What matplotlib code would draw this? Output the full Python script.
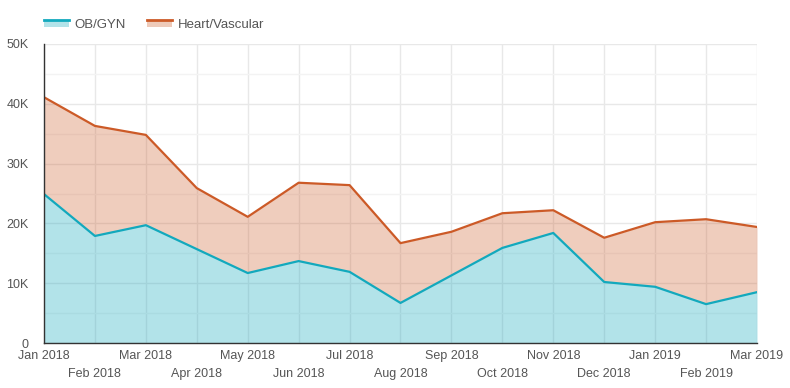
import matplotlib
matplotlib.use("Agg")
import matplotlib.pyplot as plt
from matplotlib.legend_handler import HandlerBase
from matplotlib.patches import Rectangle
from matplotlib.lines import Line2D
from matplotlib.ticker import MultipleLocator, FuncFormatter

plt.rcParams["font.family"] = ["Liberation Sans", "DejaVu Sans"]

months = ["Jan 2018", "Feb 2018", "Mar 2018", "Apr 2018", "May 2018", "Jun 2018",
          "Jul 2018", "Aug 2018", "Sep 2018", "Oct 2018", "Nov 2018", "Dec 2018",
          "Jan 2019", "Feb 2019", "Mar 2019"]
ob_gyn = [24900, 17900, 19700, 15700, 11700, 13700, 11900, 6700, 11300, 15900,
          18400, 10200, 9400, 6500, 8500]
heart_top = [41100, 36300, 34800, 25900, 21100, 26800, 26400, 16700, 18600, 21700,
             22200, 17600, 20200, 20700, 19400]
heart = [t - o for t, o in zip(heart_top, ob_gyn)]

teal = "#12a9bd"
orange = "#cc5a27"

fig = plt.figure(figsize=(7.9, 3.88), dpi=100)
ax = fig.add_axes([44 / 790, 45 / 388, 713 / 790, 299 / 388])

x = list(range(len(months)))
top = [o + h for o, h in zip(ob_gyn, heart)]
ax.fill_between(x, 0, ob_gyn, color=teal, alpha=0.32, lw=0, zorder=2)
ax.fill_between(x, ob_gyn, top, color=orange, alpha=0.3, lw=0, zorder=2)
ax.plot(x, top, color=orange, lw=1.6, zorder=3)
ax.plot(x, ob_gyn, color=teal, lw=1.6, zorder=3)

ax.set_xlim(0, len(months) - 1)
ax.set_ylim(0, 50000)
ax.yaxis.set_major_locator(MultipleLocator(10000))
ax.yaxis.set_minor_locator(MultipleLocator(5000))
ax.yaxis.set_major_formatter(FuncFormatter(lambda v, p: "0" if v == 0 else f"{int(v / 1000)}K"))
ax.set_xticks(x[::2])
ax.set_xticklabels(months[::2])
ax.set_xticks(x[1::2], minor=True)
ax.set_xticklabels(months[1::2], minor=True)
ax.set_axisbelow(True)
ax.grid(which="major", color="#e8e8e8", lw=1, zorder=0)
ax.grid(which="minor", axis="x", color="#e8e8e8", lw=1, zorder=0)
ax.grid(which="minor", axis="y", color="#f3f3f3", lw=1, zorder=0)
ax.tick_params(which="both", length=0, labelsize=9, colors="#555555", pad=5)
ax.tick_params(axis="x", which="minor", pad=18)
ax.tick_params(axis="y", pad=11)
for s in ["top", "right"]:
    ax.spines[s].set_visible(False)
for s in ["left", "bottom"]:
    ax.spines[s].set_color("#333333")
    ax.spines[s].set_linewidth(1)
    ax.spines[s].set_zorder(4)


class AreaHandler(HandlerBase):
    def __init__(self, line_c):
        super().__init__()
        self.line_c = line_c

    def create_artists(self, legend, orig, xd, yd, w, h, fontsize, trans):
        r = Rectangle((xd, yd), w, h * 0.6, facecolor=self.line_c, alpha=0.32, lw=0, transform=trans)
        l = Line2D([xd, xd + w], [yd + h * 0.6, yd + h * 0.6], color=self.line_c, lw=2, transform=trans)
        return [r, l]


h1 = Rectangle((0, 0), 1, 1)
h2 = Rectangle((0, 0), 1, 1)
fig.legend([h1, h2], ["OB/GYN", "Heart/Vascular"],
           handler_map={h1: AreaHandler(teal), h2: AreaHandler(orange)},
           loc="upper left", bbox_to_anchor=(0.041, 0.985), ncol=2, frameon=False,
           fontsize=9.5, handlelength=1.9, handleheight=0.9, handletextpad=0.4,
           columnspacing=1.6, labelcolor="#555555")

fig.savefig("out.png", dpi=100)
